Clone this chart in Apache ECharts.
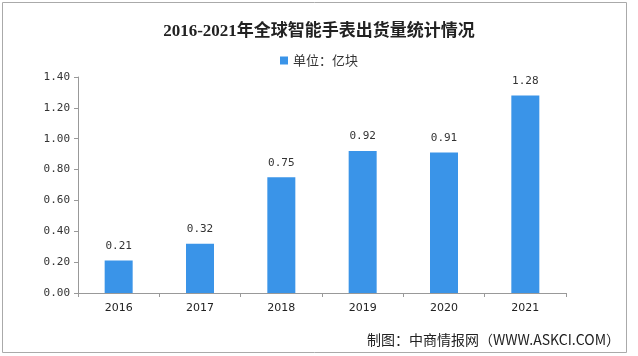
<!DOCTYPE html>
<html>
<head>
<meta charset="utf-8">
<script src="https://cdn.jsdelivr.net/npm/echarts@6/dist/echarts.min.js"></script>
<style>html,body{margin:0;padding:0;background:#fff;}#c{width:638px;height:356px;}</style>
</head>
<body>
<div id="c"></div>
<script>
const categories = ['2016', '2017', '2018', '2019', '2020', '2021'];
const shipments = [0.21, 0.32, 0.75, 0.92, 0.91, 1.28];
const seriesName = '单位：亿块';
const titleText = '2016-2021年全球智能手表出货量统计情况';
const sourceText = '制图：中商情报网（WWW.ASKCI.COM）';

const chart = echarts.init(document.getElementById('c'), null, {renderer: 'canvas'});
chart.setOption({
  animation: false,
  backgroundColor: '#fff',
  title: {
    text: titleText,
    left: 'center',
    top: 18,
    textStyle: {fontFamily: "'Liberation Serif','Noto Sans CJK SC'", fontSize: 17, fontWeight: 'bold', color: '#222'}
  },
  legend: {
    data: [seriesName],
    top: 49,
    left: 'center',
    itemWidth: 8,
    itemHeight: 8,
    itemGap: 6,
    icon: 'rect',
    textStyle: {fontFamily: "'Noto Sans CJK SC'", fontSize: 13, color: '#333'}
  },
  grid: {left: 78, right: 72, top: 77, bottom: 63, containLabel: false},
  xAxis: {
    type: 'category',
    data: categories,
    axisLine: {lineStyle: {color: '#999'}},
    axisTick: {show: true, alignWithLabel: false, length: 4, lineStyle: {color: '#999'}},
    axisLabel: {fontFamily: "'DejaVu Sans'", fontSize: 11, color: '#222', margin: 10}
  },
  yAxis: {
    type: 'value',
    min: 0, max: 1.4, interval: 0.2,
    axisLine: {show: true, lineStyle: {color: '#999'}},
    axisTick: {show: true, length: 4, lineStyle: {color: '#999'}},
    splitLine: {show: false},
    axisLabel: {fontFamily: "'DejaVu Sans Mono'", fontSize: 11, color: '#333', margin: 8,
      formatter: v => v.toFixed(2)}
  },
  series: [{
    name: seriesName,
    type: 'bar',
    data: shipments,
    barWidth: 28,
    itemStyle: {color: '#3a94e8'},
    label: {show: true, position: 'top', distance: 9, fontFamily: "'DejaVu Sans Mono'", fontSize: 11, color: '#333',
      formatter: p => p.value.toFixed(2)}
  }],
  graphic: [
    {type: 'rect', shape: {x: 2.5, y: 2.5, width: 624, height: 350}, style: {fill: 'none', stroke: '#aaa', lineWidth: 1}, silent: true},
    {type: 'text', right: 18, top: 333, style: {text: sourceText, font: "14px 'Noto Sans CJK SC'", fill: '#222'}}
  ]
});
</script>
</body>
</html>
